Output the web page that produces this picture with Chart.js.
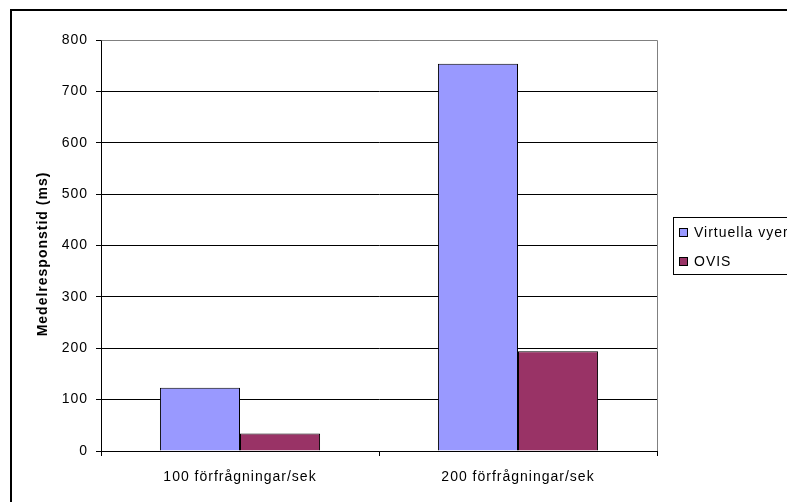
<!DOCTYPE html>
<html>
<head>
<meta charset="utf-8">
<script src="https://cdn.jsdelivr.net/npm/chart.js@4/dist/chart.umd.min.js"></script>
<style>
  html, body { margin: 0; padding: 0; background: #fff; overflow: hidden; }
  #wrap { position: relative; width: 787px; height: 502px; }
</style>
</head>
<body>
<div id="wrap"><canvas id="c" width="787" height="502"></canvas></div>
<script>
// Average response time per load level
const categories = ['100 förfrågningar/sek', '200 förfrågningar/sek'];
const seriesNames = ['Virtuella vyer', 'OVIS'];
const virtuellaVyer = [123, 754];
const ovis = [34, 194];
const yTicks = [0, 100, 200, 300, 400, 500, 600, 700, 800];
const yTitle = 'Medelresponstid (ms)';

const FONT = "'Liberation Sans', Arial, sans-serif";

// Outer frame, wide letter spacing, plot-area border (top/right in grey)
const framePlugin = {
  id: 'frame',
  beforeDraw(chart) {
    const ctx = chart.ctx;
    ctx.letterSpacing = '1px';
    ctx.save();
    ctx.fillStyle = '#fff';
    ctx.fillRect(0, 0, chart.width, chart.height);
    ctx.strokeStyle = '#000';
    ctx.lineWidth = 2;
    ctx.beginPath();
    ctx.moveTo(11, chart.height + 2);
    ctx.lineTo(11, 10);
    ctx.lineTo(chart.width + 2, 10);
    ctx.stroke();
    ctx.restore();
  },
  afterDatasetsDraw(chart) {
    const a = chart.chartArea;
    const ctx = chart.ctx;
    ctx.save();
    ctx.strokeStyle = '#808080';
    ctx.lineWidth = 1;
    ctx.beginPath();
    ctx.moveTo(Math.round(a.left) + 0.5, Math.round(a.top) + 0.5);
    ctx.lineTo(Math.round(a.right) + 0.5, Math.round(a.top) + 0.5);
    ctx.lineTo(Math.round(a.right) + 0.5, Math.round(a.bottom));
    ctx.stroke();
    ctx.restore();
  }
};

// Rotated y-axis title and boxed legend to the right of the plot
const boxLegend = {
  id: 'boxLegend',
  afterDraw(chart) {
    const ctx = chart.ctx;
    const a = chart.chartArea;
    ctx.save();
    ctx.translate(43, 254);
    ctx.rotate(-Math.PI / 2);
    ctx.font = 'bold 14px ' + FONT;
    ctx.fillStyle = '#000';
    ctx.textAlign = 'center';
    ctx.textBaseline = 'middle';
    ctx.fillText(yTitle, 0, 0);
    ctx.restore();

    const x0 = a.right + 16, y0 = 217, h = 57, w = 140;
    ctx.save();
    ctx.strokeStyle = '#000';
    ctx.lineWidth = 1;
    ctx.strokeRect(x0 + 0.5, y0 + 0.5, w, h);
    ctx.font = '14px ' + FONT;
    ctx.textBaseline = 'middle';
    chart.data.datasets.forEach((ds, i) => {
      const cy = y0 + 15 + i * 29;
      ctx.fillStyle = ds.backgroundColor;
      ctx.fillRect(x0 + 6, cy - 4, 9, 9);
      ctx.strokeRect(x0 + 6.5, cy - 3.5, 8, 8);
      ctx.fillStyle = '#000';
      ctx.fillText(ds.label, x0 + 21, cy + 1);
    });
    ctx.restore();
  }
};

new Chart(document.getElementById('c'), {
  type: 'bar',
  data: {
    labels: categories,
    datasets: [
      { label: seriesNames[0], data: virtuellaVyer, backgroundColor: '#9999FF', borderColor: '#000', borderWidth: 1 },
      { label: seriesNames[1], data: ovis, backgroundColor: '#993366', borderColor: '#000', borderWidth: 1 }
    ]
  },
  options: {
    responsive: false,
    animation: false,
    events: [],
    layout: { padding: { top: 40, right: 130, left: 0, bottom: 0 } },
    datasets: { bar: { categoryPercentage: 0.576, barPercentage: 1 } },
    plugins: { legend: { display: false }, tooltip: { enabled: false } },
    scales: {
      x: {
        afterFit(scale) { scale.height = 51; },
        grid: { drawOnChartArea: false, drawTicks: true, tickLength: 5, color: '#000', offset: true },
        border: { color: '#000', width: 1 },
        ticks: { color: '#000', font: { family: FONT, size: 14 }, padding: 13, maxRotation: 0 }
      },
      y: {
        min: 0, max: 800,
        afterFit(scale) { scale.width = 101; },
        afterBuildTicks(scale) { scale.ticks = yTicks.map(v => ({ value: v })); },
        grid: {
          color: ctx => (ctx.tick && ctx.tick.value === 800) ? '#808080' : '#000',
          tickColor: '#000',
          tickLength: 5,
          lineWidth: 1
        },
        border: { color: '#000', width: 1 },
        ticks: { color: '#000', font: { family: FONT, size: 14 }, padding: 8 },
        title: { display: false }
      }
    }
  },
  plugins: [framePlugin, boxLegend]
});
</script>
</body>
</html>
